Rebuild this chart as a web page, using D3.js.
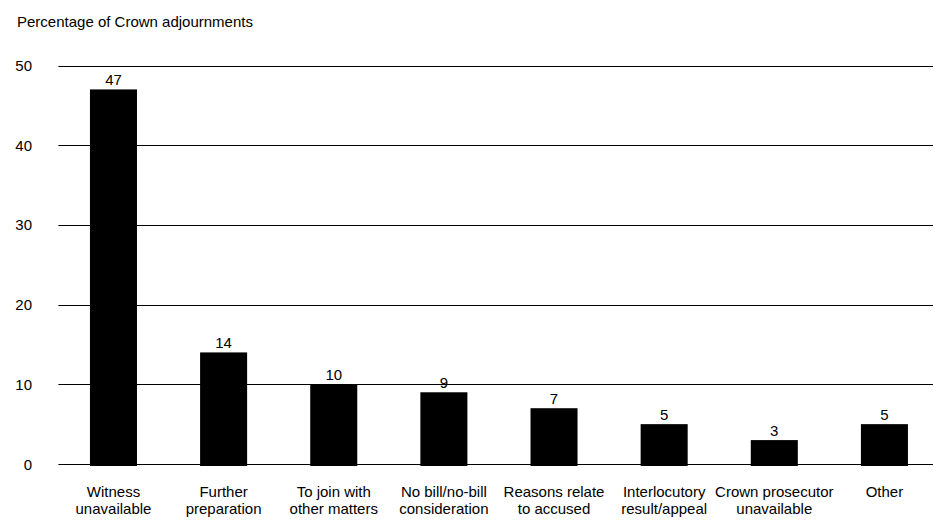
<!DOCTYPE html>
<html>
<head>
<meta charset="utf-8">
<script src="https://cdn.jsdelivr.net/npm/d3@7/dist/d3.min.js"></script>
<style>
  html, body { margin: 0; padding: 0; background: #fff; }
  svg { display: block; }
  text { font-family: "Liberation Sans", Arial, sans-serif; fill: #000; }
</style>
</head>
<body>
<svg id="chart" width="934" height="521"></svg>
<script>
const categories = [
  ["Witness", "unavailable"],
  ["Further", "preparation"],
  ["To join with", "other matters"],
  ["No bill/no-bill", "consideration"],
  ["Reasons relate", "to accused"],
  ["Interlocutory", "result/appeal"],
  ["Crown prosecutor", "unavailable"],
  ["Other"]
];
const values = [47, 14, 10, 9, 7, 5, 3, 5];
const yTicks = [0, 10, 20, 30, 40, 50];
const yTitle = "Percentage of Crown adjournments";

const svg = d3.select("#chart");
const W = 934, H = 521;
const plotLeft = 58.4, plotRight = 939.5, gridRight = 933;
const yTop = 65.5, yBottom = 464;

const x = d3.scaleBand()
  .domain(d3.range(categories.length))
  .range([plotLeft, plotRight])
  .paddingInner(0.573)
  .paddingOuter(0.2865);

const y = d3.scaleLinear().domain([0, 50]).range([yBottom, yTop]);

// title
svg.append("text")
  .attr("x", 17).attr("y", 26.5)
  .attr("font-size", 15)
  .text(yTitle);

// gridlines
svg.append("g").selectAll("line").data(yTicks).join("line")
  .attr("x1", plotLeft).attr("x2", gridRight)
  .attr("y1", d => Math.round(y(d)) + 0.5).attr("y2", d => Math.round(y(d)) + 0.5)
  .attr("stroke", "#000").attr("stroke-width", 1.2);

// y tick labels
svg.append("g").selectAll("text").data(yTicks).join("text")
  .attr("x", 32).attr("y", d => y(d))
  .attr("text-anchor", "end")
  .attr("dominant-baseline", "central")
  .attr("font-size", 15)
  .text(d => d);

// bars
svg.append("g").selectAll("rect").data(values).join("rect")
  .attr("x", (d, i) => x(i))
  .attr("width", x.bandwidth())
  .attr("y", d => y(d))
  .attr("height", d => y(0) - y(d) + 2)
  .attr("fill", "#000");

// value labels
svg.append("g").selectAll("text").data(values).join("text")
  .attr("x", (d, i) => x(i) + x.bandwidth() / 2)
  .attr("y", d => y(d) - 4.5)
  .attr("text-anchor", "middle")
  .attr("font-size", 15)
  .text(d => d);

// category labels
const cat = svg.append("g").selectAll("text").data(categories).join("text")
  .attr("x", (d, i) => x(i) + x.bandwidth() / 2)
  .attr("y", 497)
  .attr("text-anchor", "middle")
  .attr("font-size", 15);
cat.selectAll("tspan").data(d => d).join("tspan")
  .attr("x", function() { return d3.select(this.parentNode).attr("x"); })
  .attr("dy", (d, i) => i === 0 ? 0 : 17)
  .text(d => d);
</script>
</body>
</html>
